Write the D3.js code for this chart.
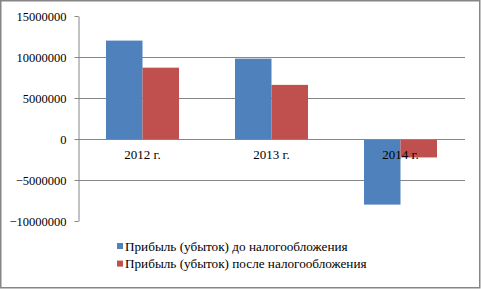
<!DOCTYPE html>
<html>
<head>
<meta charset="utf-8">
<script src="https://cdn.jsdelivr.net/npm/d3@7"></script>
<style>
	body { margin: 0; background: #fff; }
	svg text { font-family: "Liberation Serif", "Times New Roman", serif; fill: #000; }
</style>
</head>
<body>
<svg id="chart" width="481" height="289"></svg>
<script>
const categories = ["2012 г.", "2013 г.", "2014 г."];
const seriesNames = [
	"Прибыль (убыток) до налогообложения",
	"Прибыль (убыток) после налогообложения"
];
const profitBefore = [12000000, 9800000, -8000000];
const profitAfter = [8700000, 6600000, -2250000];
const yTicks = [-10000000, -5000000, 0, 5000000, 10000000, 15000000];
const gridTicks = [-5000000, 0, 5000000, 10000000];
const colors = ["#4F81BD", "#C0504D"];

const margin = {
	top: 16,
	right: 16,
	bottom: 68,
	left: 78
};
const width = 481;
const height = 289;

const svg = d3.select("#chart");

// outer frame
svg.append("rect")
	.attr("x", 0.75)
	.attr("y", 0.75)
	.attr("width", width - 2)
	.attr("height", height - 2)
	.attr("fill", "#fff")
	.attr("stroke", "#868686")
	.attr("stroke-width", 1.5);

const y = d3.scaleLinear()
	.domain([-10000000, 15000000])
	.range([height - margin.bottom, margin.top]);

const x0 = d3.scaleBand()
	.domain(categories)
	.range([margin.left, 465])
	.paddingInner(0.434)
	.paddingOuter(0.217);

const x1 = d3.scaleBand()
	.domain([0, 1])
	.range([0, x0.bandwidth()]);

// gridlines
svg.append("g")
	.attr("class", "grid")
	.selectAll("line")
	.data(gridTicks)
	.join("line")
	.attr("x1", margin.left)
	.attr("x2", 465)
	.attr("y1", d => Math.round(y(d)) + 0.5)
	.attr("y2", d => Math.round(y(d)) + 0.5)
	.attr("stroke", "#868686")
	.attr("stroke-width", 1);

// y axis
const yAxis = svg.append("g")
	.attr("transform", `translate(${margin.left + 0.5},0)`)
	.call(d3.axisLeft(y).tickValues(yTicks).tickSize(4).tickSizeOuter(0).tickPadding(8).tickFormat(d3.format("d")));
yAxis.select(".domain").attr("stroke", "#868686");
yAxis.selectAll(".tick line").attr("stroke", "#868686");
yAxis.selectAll(".tick text").attr("font-size", 12.5).attr("font-family", "Liberation Serif");

// bars
const rows = categories.map((c, i) => ({ cat: c, vals: [profitBefore[i], profitAfter[i]] }));
svg.append("g")
	.selectAll("g")
	.data(rows)
	.join("g")
	.attr("transform", d => `translate(${x0(d.cat)},0)`)
	.selectAll("rect")
	.data(d => d.vals.map((v, k) => ({ v, k })))
	.join("rect")
	.attr("x", d => x1(d.k))
	.attr("y", d => y(Math.max(0, d.v)))
	.attr("width", x1.bandwidth())
	.attr("height", d => Math.abs(y(d.v) - y(0)))
	.attr("fill", d => colors[d.k]);

// zero axis line on top
svg.append("line")
	.attr("x1", margin.left)
	.attr("x2", 465)
	.attr("y1", Math.round(y(0)) + 0.5)
	.attr("y2", Math.round(y(0)) + 0.5)
	.attr("stroke", "#868686");

// category labels
svg.append("g")
	.selectAll("text")
	.data(categories)
	.join("text")
	.attr("x", d => x0(d) + x0.bandwidth() / 2)
	.attr("y", y(0) + 20)
	.attr("text-anchor", "middle")
	.attr("font-size", 13)
	.text(d => d);

// legend
const legend = svg.append("g")
	.attr("transform", "translate(117,246)");
legend.selectAll("rect")
	.data(seriesNames)
	.join("rect")
	.attr("x", 0)
	.attr("y", (d, i) => i * 17.6 - 3)
	.attr("width", 6)
	.attr("height", 6)
	.attr("fill", (d, i) => colors[i]);
legend.selectAll("text")
	.data(seriesNames)
	.join("text")
	.attr("x", 8)
	.attr("y", (d, i) => i * 17.6 + 4.5)
	.attr("font-size", 13.2)
	.text(d => d);
</script>
</body>
</html>
